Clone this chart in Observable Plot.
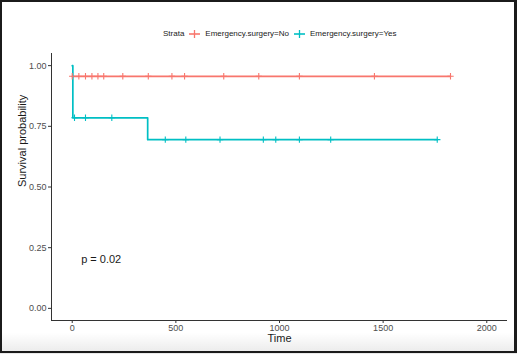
<!DOCTYPE html>
<html>
<head>
<meta charset="utf-8">
<script src="https://cdn.jsdelivr.net/npm/d3@7"></script>
<script src="https://cdn.jsdelivr.net/npm/@observablehq/plot@0.6"></script>
<style>
  html, body { margin: 0; padding: 0; }
  body { width: 517px; height: 354px; overflow: hidden; position: relative;
         background: linear-gradient(to bottom, #fff 0%, #fff 94%, #e9e9e9 100%);
         font-family: "Liberation Sans", Arial, sans-serif; }
  #frame { position: absolute; left: 0; top: 0; width: 517px; height: 353px; box-sizing: border-box;
           border: 2px solid #1b1b1b; border-right-width: 3px; pointer-events: none; z-index: 5; }
  #legend { height: 44px; box-sizing: border-box; padding-top: 23px; padding-left: 163px;
            display: flex; align-items: center; font-size: 8px; color: #1a1a1a; }
  #legend .key { margin: 0 5px 0 5px; }
  #chart svg { display: block; }
</style>
</head>
<body>
<div id="frame"></div>
<div id="legend"></div>
<div id="chart"></div>
<script>
// ---- data ----
const legendTitle = "Strata";
const strata = ["Emergency.surgery=No", "Emergency.surgery=Yes"];
const colors = ["#F8766D", "#00BFC4"];

// Kaplan-Meier step curves (time, survival)
const noTimes = [0, 1825];
const noSurv = [0.956, 0.956];
const yesTimes = [0, 3, 364, 1761];
const yesSurv = [1.0, 0.785, 0.695, 0.695];

// censoring times
const noCensor = [0, 32, 64, 95, 124, 152, 244, 367, 481, 542, 731, 900, 1096, 1458, 1825];
const yesCensor = [11, 64, 191, 449, 548, 713, 922, 982, 1096, 1247, 1761];

const xTicks = [0, 500, 1000, 1500, 2000];
const yTicks = [0, 0.25, 0.5, 0.75, 1.0];
const pText = "p = 0.02";
const pTime = 43;
const pSurv = 0.2;

// ---- build tables ----
const curves = [];
noTimes.forEach((t, i) => curves.push({strata: strata[0], time: t, surv: noSurv[i]}));
yesTimes.forEach((t, i) => curves.push({strata: strata[1], time: t, surv: yesSurv[i]}));

function survAt(times, surv, t) {
  let s = surv[0];
  for (let i = 0; i < times.length; i++) if (times[i] <= t) s = surv[i];
  return s;
}
const censors = [];
noCensor.forEach(t => censors.push({strata: strata[0], time: t, surv: survAt(noTimes, noSurv, t)}));
yesCensor.forEach(t => censors.push({strata: strata[1], time: t, surv: survAt(yesTimes, yesSurv, t)}));

const crossSymbol = {
  draw(ctx, size) {
    const r = Math.sqrt(size / Math.PI);
    ctx.moveTo(0, -r); ctx.lineTo(0, r);
    ctx.moveTo(-r, 0); ctx.lineTo(r, 0);
  }
};

// ---- legend ----
const legend = document.getElementById("legend");
const title = document.createElement("span");
title.textContent = legendTitle;
legend.appendChild(title);
strata.forEach((s, i) => {
  const ns = "http://www.w3.org/2000/svg";
  const k = document.createElementNS(ns, "svg");
  k.setAttribute("width", 11); k.setAttribute("height", 10); k.setAttribute("class", "key");
  k.innerHTML = `<line x1="0" x2="11" y1="5" y2="5" stroke="${colors[i]}" stroke-width="1.6"/>` +
                `<line x1="5.5" x2="5.5" y1="1" y2="9" stroke="${colors[i]}" stroke-width="1.3"/>`;
  legend.appendChild(k);
  const lab = document.createElement("span");
  lab.textContent = s;
  legend.appendChild(lab);
});

// ---- chart ----
const chart = Plot.plot({
  width: 517,
  height: 308,
  marginLeft: 51,
  marginRight: 10,
  marginTop: 9,
  marginBottom: 32,
  style: {fontFamily: "Liberation Sans, Arial, sans-serif", fontSize: "9px", color: "#4d4d4d", background: "transparent"},
  x: {domain: [-100, 2100]},
  y: {domain: [-0.05, 1.05]},
  color: {domain: strata, range: colors},
  marks: [
    Plot.axisX({ticks: xTicks, tickSize: 3, tickPadding: 1, tickFormat: d3.format("d"), label: null, stroke: "#333", fill: "#4d4d4d"}),
    Plot.axisY({ticks: yTicks, tickSize: 3, tickPadding: 2, tickFormat: d3.format(".2f"), label: null, stroke: "#333", fill: "#4d4d4d"}),
    Plot.ruleY([-0.05], {stroke: "#333", strokeWidth: 1}),
    Plot.ruleX([-100], {stroke: "#333", strokeWidth: 1}),
    Plot.line(curves, {x: "time", y: "surv", z: "strata", stroke: "strata", curve: "step-after", strokeWidth: 1.7}),
    Plot.dot(censors, {x: "time", y: "surv", stroke: "strata", symbol: crossSymbol, r: 3.2, strokeWidth: 1.1, fill: "none"}),
    Plot.text([pText], {x: pTime, y: pSurv, text: d => d, textAnchor: "start", fontSize: 11, fill: "#1a1a1a"}),
    Plot.text(["Time"], {frameAnchor: "bottom", dy: 21, text: d => d, fontSize: 11, fill: "#1a1a1a"}),
    Plot.text(["Survival probability"], {frameAnchor: "left", dx: -29, rotate: -90, text: d => d, fontSize: 11, fill: "#1a1a1a"})
  ]
});
document.getElementById("chart").appendChild(chart);
</script>
</body>
</html>
